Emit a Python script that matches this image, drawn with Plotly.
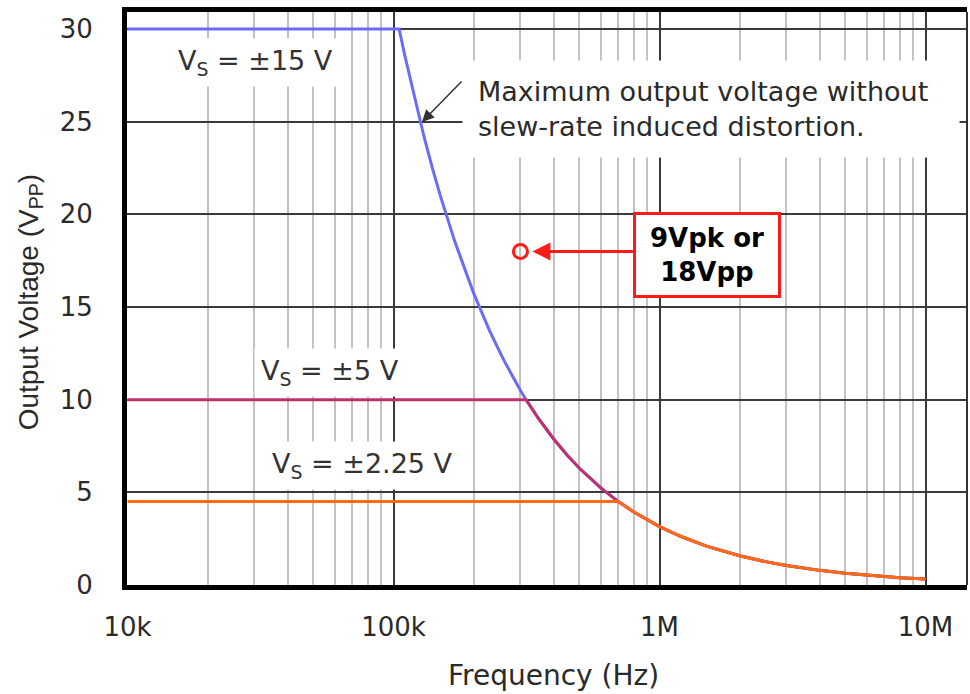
import math
import plotly.graph_objects as go

# Maximum undistorted output swing vs frequency for three supply voltages
freq_15 = [1e4, 105e3, 110e3, 120e3, 130e3, 140e3, 150e3, 170e3, 200e3, 230e3, 260e3,
           300e3, 315e3, 350e3, 400e3, 450e3, 500e3, 600e3, 700e3, 800e3, 900e3,
           1e6, 1.2e6, 1.5e6, 2e6, 2.5e6, 3e6, 4e6, 5e6, 6e6, 7e6, 8e6, 1e7]
vpp_15 = [30, 30, 28.64, 26.25, 24.23, 22.5, 21.0, 18.53, 15.75, 13.7, 12.12,
          10.5, 10.0, 9.0, 7.88, 7.0, 6.3, 5.25, 4.5, 3.94, 3.5,
          3.15, 2.63, 2.1, 1.58, 1.26, 1.05, 0.79, 0.63, 0.53, 0.45, 0.39, 0.32]

freq_5 = [1e4, 315e3, 350e3, 400e3, 450e3, 500e3, 600e3, 700e3, 800e3, 900e3,
          1e6, 1.2e6, 1.5e6, 2e6, 2.5e6, 3e6, 4e6, 5e6, 6e6, 7e6, 8e6, 1e7]
vpp_5 = [10, 10.0, 9.0, 7.88, 7.0, 6.3, 5.25, 4.5, 3.94, 3.5,
         3.15, 2.63, 2.1, 1.58, 1.26, 1.05, 0.79, 0.63, 0.53, 0.45, 0.39, 0.32]

freq_225 = [1e4, 700e3, 800e3, 900e3, 1e6, 1.2e6, 1.5e6, 2e6, 2.5e6, 3e6,
            4e6, 5e6, 6e6, 7e6, 8e6, 1e7]
vpp_225 = [4.5, 4.5, 3.94, 3.5, 3.15, 2.63, 2.1, 1.58, 1.26, 1.05,
           0.79, 0.63, 0.53, 0.45, 0.39, 0.32]

# Operating point called out on the chart
point_freq = [3e5]
point_vpp = [18]

x_tickvals = [1e4, 1e5, 1e6, 1e7]
x_ticktext = ["10k", "100k", "1M", "10M"]
y_tickvals = [0, 5, 10, 15, 20, 25, 30]

minor_vals = [m * d for d in (1e4, 1e5, 1e6) for m in range(2, 10)] + [2e7]

BLUE = "#6b6bf7"
PURPLE = "#c0306e"
ORANGE = "#ff6a14"
RED = "#ff1a1a"
TXT = "#2a2a2a"
FONT = "DejaVu Sans, Liberation Sans, sans-serif"

fig = go.Figure()
fig.add_trace(go.Scatter(x=freq_15, y=vpp_15, mode="lines",
                         line=dict(color=BLUE, width=3), name="±15 V"))
fig.add_trace(go.Scatter(x=freq_5, y=vpp_5, mode="lines",
                         line=dict(color=PURPLE, width=3), name="±5 V"))
fig.add_trace(go.Scatter(x=freq_225, y=vpp_225, mode="lines",
                         line=dict(color=ORANGE, width=3), name="±2.25 V"))
fig.add_trace(go.Scatter(x=point_freq, y=point_vpp, mode="markers",
                         marker=dict(symbol="circle-open", size=14, color=RED,
                                     line=dict(width=3, color=RED)),
                         name="18 Vpp"))

fig.update_layout(
    width=970, height=694,
    margin=dict(l=127, r=3, t=12, b=109),
    paper_bgcolor="white", plot_bgcolor="white",
    showlegend=False,
    font=dict(family=FONT, color=TXT, size=26),
)

fig.update_xaxes(
    type="log", range=[3.998, 7.156],
    tickmode="array", tickvals=x_tickvals, ticktext=x_ticktext,
    tickfont=dict(size=26, color=TXT), ticks="", ticklabelstandoff=15,
    showgrid=True, gridcolor="#3a3a3a", gridwidth=1.6,
    minor=dict(tickmode="array", tickvals=minor_vals, showgrid=True,
               gridcolor="#c2c2c2", gridwidth=2, ticks=""),
    showline=True, linecolor="black", linewidth=5, mirror=True,
    zeroline=False,
)
fig.update_yaxes(
    range=[0, 30.92],
    tickmode="array", tickvals=y_tickvals,
    tickfont=dict(size=26, color=TXT), ticks="", ticklabelstandoff=24,
    showgrid=True, gridcolor="#3a3a3a", gridwidth=1.6,
    showline=True, linecolor="black", linewidth=5, mirror=False,
    zeroline=False,
)

# Thin right-hand frame edge
fig.add_shape(type="line", xref="paper", yref="paper", x0=1, x1=1, y0=0, y1=1,
              line=dict(color="#333333", width=2))

ann = []
# Supply labels
for text, x, y in [("V<sub>S</sub> = ±15 V", 0.1524, 0.9127),
                   ("V<sub>S</sub> = ±5 V", 0.2417, 0.3717),
                   ("V<sub>S</sub> = ±2.25 V", 0.2798, 0.2094)]:
    ann.append(dict(text=text, x=x, y=y, xref="paper", yref="paper",
                    xanchor="center", yanchor="middle", showarrow=False,
                    bgcolor="white", borderpad=6,
                    font=dict(size=27, color="#333333", family=FONT)))

# Slew-rate note and its pointer
ann.append(dict(text="Maximum output voltage without<br>slew-rate induced distortion.",
                x=0.3988, y=0.8307, xref="paper", yref="paper",
                xanchor="left", yanchor="middle", align="left", width=466,
                showarrow=False, bgcolor="white", borderpad=15,
                font=dict(size=27, color=TXT, family=FONT)))
ann.append(dict(text="", x=0.3512, y=0.808, xref="paper", yref="paper",
                showarrow=True, ax=41, ay=-42, arrowhead=2, arrowsize=1.6,
                arrowwidth=1.5, arrowcolor="#333333", standoff=0))

# Callout box and red arrow pointing at the operating point
ann.append(dict(text="<b>9Vpk or<br>18Vpp</b>", x=0.6905, y=0.5759,
                xref="paper", yref="paper", xanchor="center", yanchor="middle",
                showarrow=False, bgcolor="white", bordercolor=RED,
                borderwidth=3, borderpad=4, width=134, height=72,
                font=dict(size=26, color="black", family=FONT)))
ann.append(dict(text="", x=math.log10(point_freq[0]), y=point_vpp[0],
                xref="x", yref="y", axref="pixel", ayref="pixel", ax=114, ay=0,
                showarrow=True, arrowhead=2, arrowsize=1.2, arrowwidth=3,
                arrowcolor=RED, standoff=12))

# Axis titles
ann.append(dict(text="Frequency (Hz)", x=0.5083, y=-0.1588, xref="paper", yref="paper",
                xanchor="center", yanchor="middle", showarrow=False,
                font=dict(size=28, color=TXT, family=FONT)))
ann.append(dict(text="Output Voltage (V<sub>PP</sub>)", x=-0.1155, y=0.495,
                xref="paper", yref="paper", xanchor="center", yanchor="middle",
                textangle=-90, showarrow=False,
                font=dict(size=28, color=TXT, family="Liberation Sans, Arial, sans-serif")))

fig.update_layout(annotations=ann)

fig.write_html("out.html")
